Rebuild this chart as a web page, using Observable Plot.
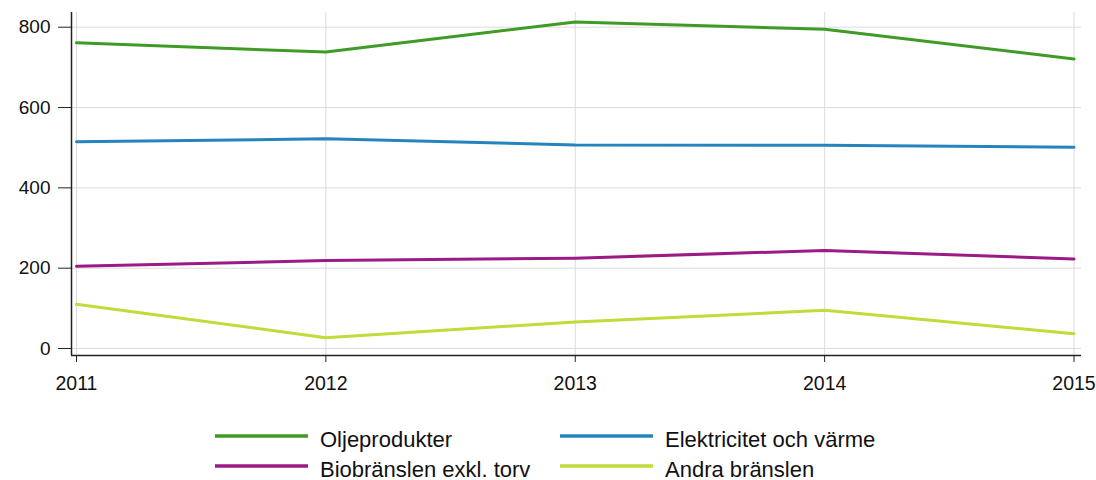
<!DOCTYPE html>
<html>
<head>
<meta charset="utf-8">
<script src="https://cdn.jsdelivr.net/npm/d3@7"></script>
<script src="https://cdn.jsdelivr.net/npm/@observablehq/plot@0.6"></script>
<style>
  body { margin: 0; background: #fff; font-family: "Liberation Sans", Arial, sans-serif; }
  #chart svg { display: block; }
  #legend { position: relative; height: 80px; }
  .item { position: absolute; display: flex; align-items: center; font-size: 22px; color: #111; }
  .item svg { margin-right: 12px; }
</style>
</head>
<body>
<div id="chart"></div>
<div id="legend"></div>
<script>
const years = [2011, 2012, 2013, 2014, 2015];
const seriesNames = ["Oljeprodukter", "Elektricitet och värme", "Biobränslen exkl. torv", "Andra bränslen"];
const oljeprodukter = [761, 738, 813, 795, 721];
const elektricitet = [515, 522, 507, 506, 501];
const biobranslen = [205, 219, 225, 244, 223];
const andra = [110, 27, 66, 95, 37];
const seriesColors = ["#3f9b26", "#2684bd", "#9c1a85", "#c2da3a"];
const yTicks = [0, 200, 400, 600, 800];

const xDomain = [2010.98, 2015.03];
const yDomain = [-17.4, 836.6];

const valuesBySeries = [oljeprodukter, elektricitet, biobranslen, andra];
const data = seriesNames.flatMap((name, i) =>
  years.map((year, j) => ({series: name, year, value: valuesBySeries[i][j]}))
);

const chart = Plot.plot({
  width: 1096,
  height: 400,
  marginLeft: 71,
  marginRight: 15,
  marginTop: 12,
  marginBottom: 45,
  style: {fontFamily: "Liberation Sans, Arial, sans-serif", background: "#fff"},
  x: {domain: xDomain},
  y: {domain: yDomain},
  color: {domain: seriesNames, range: seriesColors},
  marks: [
    Plot.ruleY(yTicks, {stroke: "#dcdcdc", strokeWidth: 1}),
    Plot.ruleX(years, {stroke: "#dcdcdc", strokeWidth: 1}),
    Plot.line(data, {x: "year", y: "value", stroke: "series", strokeWidth: 3, z: "series"}),
    Plot.axisY(yTicks, {tickSize: 13, tickPadding: 8, fontSize: 19, stroke: "#222", color: "#111", tickFormat: d => String(d), label: null}),
    Plot.axisX(years, {tickSize: 7, tickPadding: 14, fontSize: 19.5, stroke: "#222", color: "#111", tickFormat: d => String(d), label: null}),
    Plot.ruleX([xDomain[0]], {stroke: "#222", strokeWidth: 1.5}),
    Plot.ruleY([yDomain[0]], {stroke: "#222", strokeWidth: 1.5})
  ]
});
document.getElementById("chart").appendChild(chart);

const legend = document.getElementById("legend");
const positions = [[215, 36], [560, 36], [215, 66], [560, 66]];
seriesNames.forEach((name, i) => {
  const item = document.createElement("div");
  item.className = "item";
  item.style.left = positions[i][0] + "px";
  item.style.top = (positions[i][1] - 13) + "px";
  item.style.height = "26px";
  item.innerHTML = `<svg width="93" height="6"><line x1="0" x2="93" y1="3" y2="3" stroke="${seriesColors[i]}" stroke-width="3.5"/></svg><span style="position:relative;top:4px">${name}</span>`;
  legend.appendChild(item);
});
</script>
</body>
</html>
